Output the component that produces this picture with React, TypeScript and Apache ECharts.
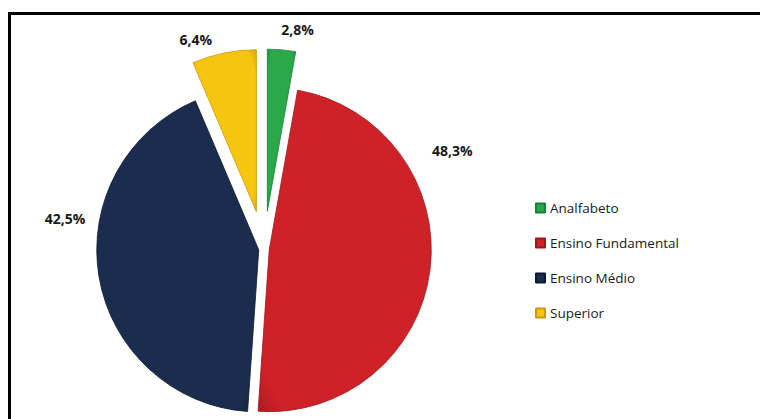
import React, { useEffect, useRef } from 'react';
import * as echarts from 'echarts';

// Data
const categories = ['Analfabeto', 'Ensino Fundamental', 'Ensino Médio', 'Superior'];
const values = [2.8, 48.3, 42.5, 6.4];

// Styles
const colors = ['#2aa84a', '#cf2128', '#1b2d4e', '#f6c50f'];
const edgeColors = ['#17803a', '#9e161c', '#0e1a30', '#c99a06'];
// slices pulled far out (true) vs slightly out (false)
const farOut = [true, false, false, true];
// label nudges [dx, dy]
const labelNudge: number[][] = [
  [-7, 0],
  [-23, -121],
  [11, -62],
  [-3, 6],
];

const fmt = (v: number) => `${v.toFixed(1).replace('.', ',')}%`;

function buildData(group: boolean) {
  return categories.map((name, i) => {
    if (farOut[i] === group) {
      return {
        name,
        value: values[i],
        selected: true,
        itemStyle: {
          color: {
            type: 'radial',
            x: 0.5,
            y: 0.5,
            r: 0.75,
            colorStops: [
              { offset: 0, color: colors[i] },
              { offset: 0.8, color: colors[i] },
              { offset: 1, color: edgeColors[i] },
            ],
          },
          borderColor: edgeColors[i],
          borderWidth: 0.8,
        },
      };
    }
    return {
      name: '',
      value: values[i],
      itemStyle: { color: 'rgba(0,0,0,0)', borderWidth: 0 },
      label: { show: false },
      emphasis: { disabled: true },
    };
  });
}

export default function App() {
  const ref = useRef<HTMLDivElement>(null);
  useEffect(() => {
    document.body.style.margin = '0';
    if (!ref.current) return;
    const chart = echarts.init(ref.current, undefined, { renderer: 'svg' });
    const labelCfg = {
      show: true,
      position: 'outside',
      formatter: (p: any) => fmt(p.value),
      fontFamily: 'Open Sans',
      fontWeight: 'bold',
      fontSize: 14,
      color: '#1a1a1a',
    };
    const baseSeries = {
      type: 'pie',
      center: [264, 249],
      radius: 162,
      startAngle: 90,
      clockwise: true,
      selectedMode: 'multiple',
      avoidLabelOverlap: false,
      label: labelCfg,
      labelLine: { show: false, length: 20, length2: 0 },
      emphasis: { scale: false },
      labelLayout: (p: any) => ({ dx: labelNudge[p.dataIndex][0], dy: labelNudge[p.dataIndex][1] }),
    };
    chart.setOption({
      animation: false,
      backgroundColor: '#ffffff',
      legend: {
        data: categories,
        orient: 'vertical',
        left: 530,
        top: 196,
        itemWidth: 9,
        itemHeight: 9,
        itemGap: 21,
        icon: 'rect',
        textStyle: { fontFamily: 'Open Sans', fontSize: 13.5, color: '#1a1a1a' },
        selectedMode: false,
      },
      graphic: [
        {
          type: 'rect',
          shape: { x: 9.5, y: 13.5, width: 900, height: 600 },
          style: { fill: 'none', stroke: '#000', lineWidth: 3 },
          silent: true,
        },
      ],
      series: [
        { ...baseSeries, name: 'far', selectedOffset: 38, data: buildData(true) },
        { ...baseSeries, name: 'near', selectedOffset: 5.3, data: buildData(false) },
      ],
    });
    return () => chart.dispose();
  }, []);
  return <div ref={ref} style={{ width: 760, height: 419 }} />;
}
